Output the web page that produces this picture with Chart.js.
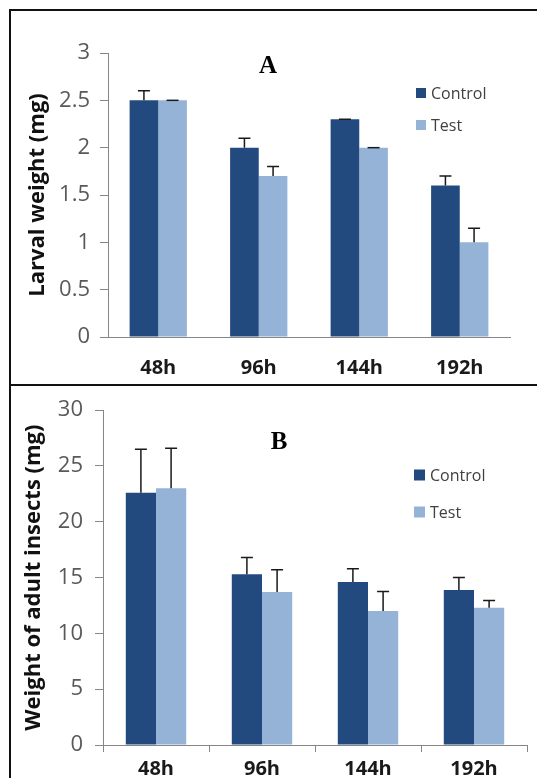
<!DOCTYPE html>
<html>
<head>
<meta charset="utf-8">
<script src="https://cdn.jsdelivr.net/npm/chart.js@4/dist/chart.umd.min.js"></script>
<style>
  body { margin: 0; background: #fff; }
  #page { position: relative; width: 537px; height: 778px; overflow: hidden; }
  .box { position: absolute; left: 0; width: 537px; }
  .frame { position: absolute; pointer-events: none; border-color: #111; border-style: solid; }
</style>
</head>
<body>
<div id="page">
  <div class="box" style="top:0;height:385px"><canvas id="chartA"></canvas></div>
  <div class="box" style="top:385px;height:393px"><canvas id="chartB"></canvas></div>
  <div class="frame" style="left:9px;top:9px;width:540px;height:373px;border-width:2px 0 2px 2px"></div>
  <div class="frame" style="left:9px;top:384px;width:540px;height:400px;border-width:0 0 0 2px"></div>
</div>
<script>
// data
const categories = ['48h', '96h', '144h', '192h'];
const seriesNames = ['Control', 'Test'];

const larvalControl = [2.5, 2.0, 2.3, 1.6];
const larvalControlErr = [0.1, 0.1, 0, 0.1];
const larvalTest = [2.5, 1.7, 2.0, 1.0];
const larvalTestErr = [0, 0.1, 0, 0.15];

const adultControl = [22.6, 15.3, 14.6, 13.9];
const adultControlErr = [3.9, 1.5, 1.2, 1.1];
const adultTest = [23.0, 13.7, 12.0, 12.3];
const adultTestErr = [3.6, 2.0, 1.75, 0.65];

const darkBlue = '#234a7e';
const lightBlue = '#95b3d7';
const axisGrey = '#868686';
const tickFont = { family: 'Open Sans', size: 22 };

// plus-only error bars, Excel style
const errorBars = {
  id: 'errorBars',
  afterDatasetsDraw(chart) {
    const ctx = chart.ctx;
    const y = chart.scales.y;
    chart.data.datasets.forEach((ds, i) => {
      chart.getDatasetMeta(i).data.forEach((bar, j) => {
        const top = y.getPixelForValue(ds.data[j] + ds.errors[j]);
        ctx.save();
        ctx.strokeStyle = '#1a1a1a';
        ctx.lineWidth = 1.5;
        ctx.beginPath();
        ctx.moveTo(bar.x, bar.y);
        ctx.lineTo(bar.x, top);
        ctx.moveTo(bar.x - 6, top);
        ctx.lineTo(bar.x + 6, top);
        ctx.stroke();
        ctx.restore();
      });
    });
  }
};

// panel letter + legend drawn inside the plot
const panelDecor = {
  id: 'panelDecor',
  afterDraw(chart, args, opts) {
    const ctx = chart.ctx;
    ctx.save();
    ctx.fillStyle = '#000';
    ctx.font = 'bold 25px "Liberation Serif"';
    ctx.textAlign = 'center';
    ctx.textBaseline = 'middle';
    ctx.fillText(opts.letter, opts.letterX, opts.letterY);

    ctx.font = '16px "Open Sans"';
    ctx.textAlign = 'left';
    chart.data.datasets.forEach((ds, i) => {
      const ly = opts.legendY + i * opts.legendGap;
      ctx.fillStyle = ds.backgroundColor;
      ctx.fillRect(opts.legendX, ly - opts.boxSize / 2, opts.boxSize, opts.boxSize);
      ctx.fillStyle = '#404040';
      ctx.fillText(ds.label, opts.legendX + opts.boxSize + 5, ly + 1);
    });
    ctx.restore();
  }
};

function makeChart(id, control, controlErr, test, testErr, s) {
  return new Chart(document.getElementById(id), {
    type: 'bar',
    data: {
      labels: categories,
      datasets: [
        { label: seriesNames[0], data: control, errors: controlErr, backgroundColor: darkBlue },
        { label: seriesNames[1], data: test, errors: testErr, backgroundColor: lightBlue }
      ]
    },
    plugins: [errorBars, panelDecor],
    options: {
      responsive: true,
      maintainAspectRatio: false,
      animation: false,
      layout: { padding: { left: 0, top: s.top, right: s.right, bottom: 0 } },
      datasets: { bar: { categoryPercentage: 0.57, barPercentage: 1 } },
      plugins: {
        legend: { display: false },
        tooltip: { enabled: false },
        panelDecor: s.decor
      },
      scales: {
        x: {
          afterFit: sc => { sc.height = s.xHeight; },
          grid: { display: s.xTicks, drawOnChartArea: false, tickLength: 7, color: axisGrey, offset: true },
          border: { display: true, color: axisGrey },
          ticks: {
            autoSkip: false, maxRotation: 0, padding: s.xPad, color: '#1a1a1a',
            font: { family: 'Open Sans', size: 20, weight: 'bold' }
          }
        },
        y: {
          min: 0, max: s.yMax,
          afterFit: sc => { sc.width = s.yWidth; },
          grid: { drawOnChartArea: false, tickLength: 8, color: axisGrey },
          border: { display: true, color: axisGrey },
          ticks: {
            stepSize: s.yStep, padding: s.yPad, color: '#595959', font: tickFont,
            callback: v => String(v)
          },
          title: {
            display: true, text: s.yTitle, color: '#111',
            padding: { top: s.titlePad, bottom: 0 },
            font: { family: 'Open Sans', size: s.titleSize, weight: 'bold' }
          }
        }
      }
    }
  });
}

makeChart('chartA', larvalControl, larvalControlErr, larvalTest, larvalTestErr, {
  top: 53, right: 27, xHeight: 48, yWidth: 108, yPad: 10, xTicks: false, xPad: 12,
  yMax: 3, yStep: 0.5, yTitle: 'Larval weight (mg)', titlePad: 25, titleSize: 22,
  decor: { letter: 'A', letterX: 268, letterY: 67, legendX: 416, legendY: 93, legendGap: 32, boxSize: 10 }
});

makeChart('chartB', adultControl, adultControlErr, adultTest, adultTestErr, {
  top: 16, right: 10, xHeight: 33, yWidth: 103, yPad: 12, xTicks: true, xPad: 5,
  yMax: 30, yStep: 5, yTitle: 'Weight of adult insects (mg)', titlePad: 21, titleSize: 22,
  decor: { letter: 'B', letterX: 279, letterY: 58, legendX: 414, legendY: 90, legendGap: 37, boxSize: 11 }
});
</script>
</body>
</html>
